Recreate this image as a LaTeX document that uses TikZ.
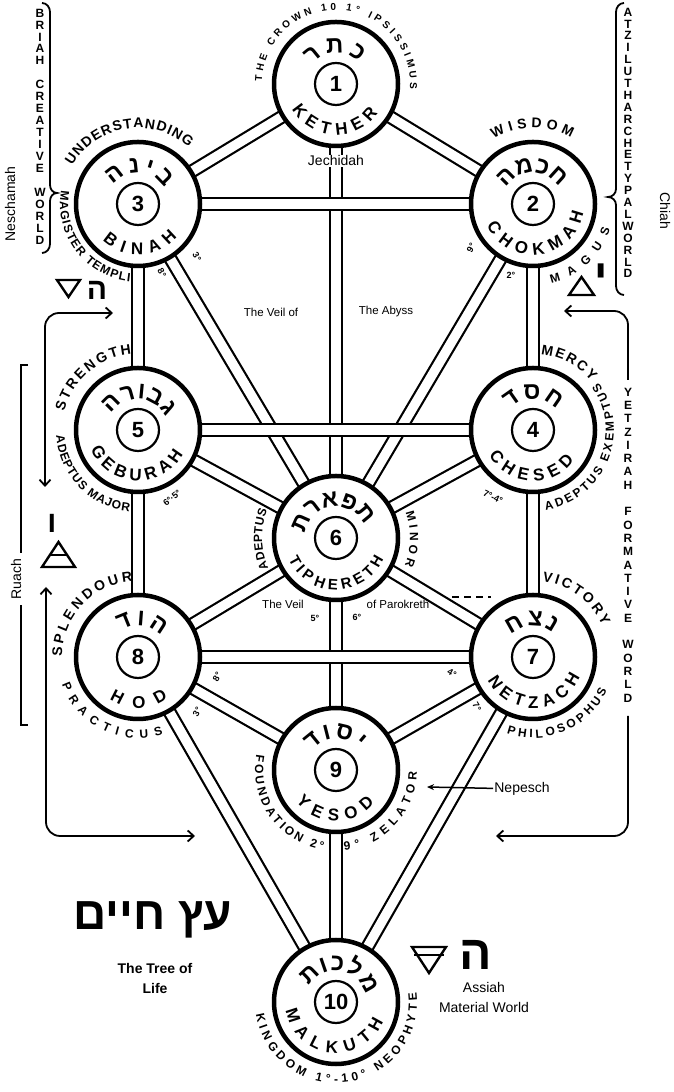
\documentclass[tikz,border=0pt]{standalone}
\usepackage{fontspec}
\setmainfont{Liberation Sans}
\newfontfamily\hebfont[Script=Hebrew]{Liberation Sans}
\TeXXeTstate=1
\usepackage{tikz}
\usetikzlibrary{arrows.meta,positioning,backgrounds,decorations.text}
\newcommand{\namefont}{\bfseries\fontsize{17}{17}\selectfont}
\newcommand{\titlefont}{\bfseries\fontsize{14}{14}\selectfont}
\newcommand{\gradefont}{\bfseries\fontsize{12}{12}\selectfont}
\newcommand{\crownfont}{\bfseries\fontsize{10}{10}\selectfont}
\newcommand{\hebname}{\hebfont\bfseries\fontsize{24}{24}\selectfont}
% text set round a sephira: centre, radius, start angle, end angle, text
\newcommand{\arclabel}[5]{%
  \path[decorate,decoration={text along path,text align={fit to path},text={#5}}]
    ([shift={(#3:#2)}]#1.center) arc[start angle=#3,end angle=#4,radius=#2];}
\tikzset{
    sephira/.style={circle,draw,line width=4.5pt,fill=white,minimum size=124pt,inner sep=0pt},
    numring/.style={circle,draw,line width=2.2pt,minimum size=42pt,inner sep=0pt,
      font=\bfseries\fontsize{22}{22}\selectfont},
    pathway/.style={line width=2.2pt,double=white,double distance=9.5pt},
    note/.style={inner sep=1pt,font=\fontsize{14}{18}\selectfont,align=center},
    smallnote/.style={inner sep=1pt,font=\fontsize{11.5}{12}\selectfont},
    grade/.style={inner sep=0.5pt,font=\bfseries\fontsize{9}{9}\selectfont},
    colletter/.style={inner sep=0pt,font=\bfseries\fontsize{12}{12}\selectfont},
    hebsym/.style={inner sep=0pt,font=\hebfont\bfseries\fontsize{30}{30}\selectfont},
    elem/.style={line width=2.4pt,line join=miter},
    yline/.style={line width=1.8pt,rounded corners=14pt},
    worldbrace/.style={line width=1.8pt}
}
\begin{document}
\begin{tikzpicture}[x=1pt,y=1pt,>={Straight Barb[length=6pt,width=11pt]}]
  \useasboundingbox (0,0) rectangle (674,1092);
  % the ten sephiroth
  \foreach \nm/\x/\y/\k in {kether/336/1008/1,chokmah/533/888/2,binah/138/888/3,
      chesed/533/662/4,geburah/138/662/5,tiphereth/336/554/6,netzach/533/435/7,
      hod/138/435/8,yesod/336/322/9,malkuth/336/90/10}
  {
    \node[sephira] (\nm) at (\x,\y) {};
    \node[numring] (n\k) at (\nm) {\k};
  }
  % the 22 paths, behind the circles
  \begin{scope}[on background layer]
    \foreach \a/\b in {kether/tiphereth,tiphereth/yesod,yesod/malkuth,kether/chokmah,
        kether/binah,chokmah/tiphereth,binah/tiphereth,chokmah/chesed,binah/geburah,
        chesed/tiphereth,geburah/tiphereth,chesed/netzach,geburah/hod,tiphereth/netzach,
        tiphereth/hod,netzach/yesod,hod/yesod,netzach/malkuth,hod/malkuth,
        binah/chokmah,geburah/chesed,hod/netzach}
      \draw[pathway] (\a.center) -- (\b.center);
  \end{scope}

  % names in the circles
  \arclabel{kether}{51}{210}{325}{|\namefont|KETHER}
  \arclabel{chokmah}{51}{205}{350}{|\namefont|CHOKMAH}
  \arclabel{binah}{51}{226}{320}{|\namefont|BINAH}
  \arclabel{chesed}{51}{210}{324}{|\namefont|CHESED}
  \arclabel{geburah}{51}{202}{332}{|\namefont|GEBURAH}
  \arclabel{tiphereth}{52}{204}{336}{|\bfseries\fontsize{15}{15}\selectfont|TIPHERETH}
  \arclabel{netzach}{51}{207}{337}{|\namefont|NETZACH}
  \arclabel{hod}{51}{236}{306}{|\namefont|HOD}
  \arclabel{yesod}{51}{218}{319}{|\namefont|YESOD}
  \arclabel{malkuth}{51}{190}{338}{|\namefont|MALKUTH}
  \arclabel{kether}{31}{142}{43}{|\hebname|רתכ}
  \arclabel{chokmah}{31}{150}{40}{|\hebname|המכח}
  \arclabel{binah}{31}{143}{30}{|\hebname|הניב}
  \arclabel{chesed}{31}{138}{40}{|\hebname|דסח}
  \arclabel{geburah}{31}{150}{25}{|\hebname|הרובג}
  \arclabel{tiphereth}{31}{172}{30}{|\hebname|תראפת}
  \arclabel{netzach}{31}{135}{50}{|\hebname|חצנ}
  \arclabel{hod}{31}{125}{42}{|\hebname|דוה}
  \arclabel{yesod}{31}{142}{43}{|\hebname|דוסי}
  \arclabel{malkuth}{31}{150}{13}{|\hebname|תוכלמ}

  % titles and grades round the circles
  \arclabel{kether}{74}{178}{-4}{|\crownfont|THE CROWN 10 1° IPSISSIMUS}
  \arclabel{binah}{76}{150}{48}{|\titlefont|UNDERSTANDING}
  \arclabel{chokmah}{76}{121}{60}{|\titlefont|WISDOM}
  \arclabel{geburah}{76}{166}{95}{|\titlefont|STRENGTH}
  \arclabel{chesed}{76}{84}{40}{|\titlefont|MERCY}
  \arclabel{hod}{76}{180}{94}{|\titlefont|SPLENDOUR}
  \arclabel{netzach}{76}{83}{24}{|\titlefont|VICTORY}
  \arclabel{binah}{78}{170}{264}{|\gradefont|MAGISTER TEMPLI}
  \arclabel{chokmah}{81}{283}{342}{|\gradefont|MAGUS}
  \arclabel{geburah}{82}{184}{264}{|\gradefont|ADEPTUS MAJOR}
  \arclabel{chesed}{81}{279}{396}{|\gradefont|ADEPTUS EXEMPTUS}
  \arclabel{tiphereth}{74}{204}{158}{|\gradefont|ADEPTUS}
  \arclabel{tiphereth}{74}{20}{-22}{|\gradefont|MINOR}
  \arclabel{hod}{81}{200}{288}{|\gradefont|PRACTICUS}
  \arclabel{netzach}{81}{251}{336}{|\gradefont|PHILOSOPHUS}
  \arclabel{yesod}{81}{169}{261}{|\gradefont|FOUNDATION 2°}
  \arclabel{yesod}{81}{276}{359}{|\gradefont|9° ZELATOR}
  \arclabel{malkuth}{81}{189}{367}{|\gradefont|KINGDOM 1°-10° NEOPHYTE}

  % grade numbers by the paths
  \node[grade,rotate=-60] (b8) at (162,819) {8°};
  \node[grade,rotate=-60] (b3) at (197,835) {3°};
  \node[grade,rotate=60] (c9) at (471,844) {9°};
  \node[grade] (c2) at (511,817) {2°};
  \node[grade,rotate=40] (g65) at (172,594) {6°·5°};
  \node[grade,rotate=-25] (ch74) at (493,595) {7°-4°};
  \node[grade] (t5) at (315,474) {5°};
  \node[grade] (t6) at (357,475) {6°};
  \node[grade,rotate=-30] (n4) at (452,419) {4°};
  \node[grade,rotate=-60] (n7) at (477,385) {7°};
  \node[grade,rotate=60] (h8) at (217,415) {8°};
  \node[grade,rotate=60] (h3) at (197,380) {3°};

  % veils and parts of the soul
  \node[note,fill=white] (jechidah) at (336,931) {Jechidah};
  \node[smallnote] (veil-a) at (271,780) {The Veil of};
  \node[smallnote] (abyss) at (386,780) {The Abyss};
  \node[smallnote] (veil-b) at (283,488) {The Veil};
  \node[smallnote] (parokreth) at (398,488) {of Parokreth};
  \coordinate (dash-a) at (452,495);
  \coordinate (dash-b) at (491,495);
  \draw[line width=1.2pt,dash pattern=on 7pt off 5pt] (dash-a) -- (dash-b);
  \node[note] (nepesch) at (522,303) {Nepesch};
  \coordinate (nep-tip) at (427,305);
  \draw[-{Stealth[length=7pt,width=6pt]},line width=1.5pt] (nepesch) -- (nep-tip);
  \node[note,rotate=90] (neschamah) at (10,888) {Neschamah};
  \node[note,rotate=-90] (chiah) at (665,881) {Chiah};

  % the four worlds
  \draw[worldbrace] (42,1089) to[out=0,in=90] (50,1080) -- (50,907)
    to[out=-90,in=180] (57,899) to[out=180,in=90] (50,891) -- (50,848)
    to[out=-90,in=0] (42,839);
  \foreach \ch [count=\i from 0] in {B,R,I,A,H,{},C,R,E,A,T,I,V,E,{},W,O,R,L,D}
    \node[colletter] (bri-\i) at (40,{1079-11.95*\i}) {\ch};
  \draw[worldbrace] (624,1089) to[out=180,in=90] (616,1080) -- (616,903)
    to[out=-90,in=0] (608,895) to[out=0,in=90] (616,887) -- (616,806)
    to[out=-90,in=180] (624,797);
  \foreach \ch [count=\i from 0] in {A,T,Z,I,L,U,T,H,A,R,C,H,E,T,Y,P,A,L,W,O,R,L,D}
    \node[colletter] (atz-\i) at (628,{1080-11.9*\i}) {\ch};
  \foreach \ch [count=\i from 0] in {Y,E,T,Z,I,R,A,H,{},F,O,R,M,A,T,I,V,E,{},W,O,R,L,D}
    \node[colletter] (yez-\i) at (628,{700-13.3*\i}) {\ch};

  \draw[elem] (57,812) -- (80,812) -- (68.5,795) -- cycle;
  \node[hebsym] (he-briah) at (97,802) {ה};
  \draw[elem] (569,797) -- (594,797) -- (581.5,815) -- cycle;
  \node[hebsym,font=\hebfont\bfseries\fontsize{44}{44}\selectfont] (yod-atz) at (601,815) {י};
  \node[hebsym] (vav-yetz) at (52,569) {ו};
  \draw[elem] (42,525) -- (75,525) -- (58.5,550) -- cycle;
  \draw[elem] (49,537) -- (68,537);
  \draw[elem] (412,145) -- (446,145) -- (429,119) -- cycle;
  \draw[elem] (414,137) -- (444,137);
  \node[hebsym,font=\hebfont\bfseries\fontsize{48}{48}\selectfont] (he-assiah) at (476,137) {ה};

  % arrows of Yetzirah and the bracket of Ruach
  \coordinate (bri-r) at (113,779);
  \coordinate (bri-d) at (45,605);
  \draw[yline,<->] (bri-d) -- (45,779) -- (bri-r);
  \coordinate (ass-u) at (46,505);
  \coordinate (ass-r) at (195,256);
  \draw[yline,<->] (ass-u) -- (46,256) -- (ass-r);
  \coordinate (atz-l) at (564,781);
  \coordinate (yz-top) at (628,712);
  \draw[yline,<-] (atz-l) -- (628,781) -- (yz-top);
  \coordinate (yz-bot) at (628,376);
  \coordinate (ass-l) at (496,256);
  \draw[yline,->] (yz-bot) -- (628,256) -- (ass-l);
  \draw[line width=1.8pt] (28,727) -- (21,727) -- (21,367) -- (28,367);
  \node[note,rotate=90,fill=white,inner sep=6pt] (ruach) at (16,513) {Ruach};

  % name of the tree
  \node[inner sep=0pt,font=\hebfont\bfseries\fontsize{46}{46}\selectfont] (etz) at (153,172)
    {\beginR עץ חיים\endR};
  \node[note,font=\bfseries\fontsize{14}{20}\selectfont] (treename) at (155,114) {The Tree of\\Life};
  \node[note,font=\fontsize{14}{20}\selectfont] (assiah) at (484,95) {Assiah\\Material World};
\end{tikzpicture}
\end{document}
